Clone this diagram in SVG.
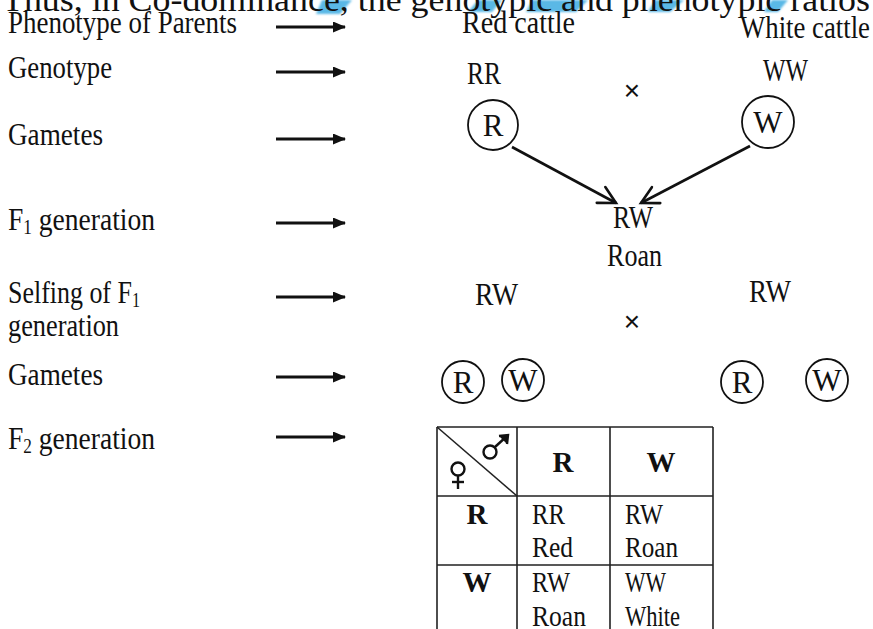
<svg xmlns="http://www.w3.org/2000/svg" width="873" height="629" viewBox="0 0 873 629">
  <defs>
    <marker id="solid-head" viewBox="0 0 13 11" refX="12" refY="5.5" markerWidth="13" markerHeight="11" markerUnits="userSpaceOnUse" orient="auto">
      <path d="M0,0 L13,5.5 L0,11 Z" fill="#111"/>
    </marker>
    <marker id="open-head" viewBox="0 0 22 22" refX="19" refY="11" markerWidth="22" markerHeight="22" markerUnits="userSpaceOnUse" orient="auto">
      <path d="M2,2 L19,11 L2,20" fill="none" stroke="#111" stroke-width="2.6" stroke-linecap="round" stroke-linejoin="miter"/>
    </marker>
    <filter id="soft" x="-20%" y="-20%" width="140%" height="140%">
      <feGaussianBlur stdDeviation="1.2"/>
    </filter>
  </defs>
  <style>
    text { font-family: "Liberation Serif", "Times New Roman", serif; fill: #111; }
    .lbl { font-size: 32px; }
    .big { font-size: 32px; }
    .gl { font-size: 31px; text-anchor: middle; }
    .cell { font-size: 29px; }
    .bold { font-size: 29px; font-weight: bold; text-anchor: middle; }
    .cross { font-family: "Liberation Sans", Arial, sans-serif; font-size: 28px; text-anchor: middle; }
    .step { stroke: #111; stroke-width: 2.8; fill: none; marker-end: url(#solid-head); }
    .link { stroke: #111; stroke-width: 2.6; fill: none; marker-end: url(#open-head); }
    .gam { fill: none; stroke: #111; stroke-width: 1.8; }
    .grid { stroke: #222; stroke-width: 1.6; fill: none; }
  </style>

  <rect width="873" height="629" fill="#ffffff"/>

  <!-- heading line running off the top edge, with highlighter strokes behind it -->
  <g id="heading">
    <g fill="#5ab8e6" filter="url(#soft)">
      <polygon points="322,0 352,0 340,14 316,14"/>
      <polygon points="478,0 502,0 492,12 468,12"/>
      <polygon points="532,0 588,0 576,12 526,12"/>
      <polygon points="655,0 684,0 670,12 648,12"/>
      <polygon points="772,0 788,0 778,12 764,12"/>
    </g>
    <text x="2" y="11" font-size="33" textLength="868" lengthAdjust="spacingAndGlyphs">Thus, in Co-dominance, the genotypic and phenotypic ratios</text>
  </g>

  <!-- step labels -->
  <g id="labels">
    <text class="lbl" x="8" y="33" textLength="229" lengthAdjust="spacingAndGlyphs">Phenotype of Parents</text>
    <text class="lbl" x="8" y="78" textLength="104" lengthAdjust="spacingAndGlyphs">Genotype</text>
    <text class="lbl" x="8" y="145" textLength="95" lengthAdjust="spacingAndGlyphs">Gametes</text>
    <text class="lbl" x="8" y="230" textLength="147" lengthAdjust="spacingAndGlyphs">F<tspan font-size="20" dy="4">1</tspan><tspan dy="-4"> generation</tspan></text>
    <text class="lbl" x="8" y="303" textLength="132" lengthAdjust="spacingAndGlyphs">Selfing of F<tspan font-size="20" dy="4">1</tspan></text>
    <text class="lbl" x="8" y="336" textLength="111" lengthAdjust="spacingAndGlyphs">generation</text>
    <text class="lbl" x="8" y="385" textLength="95" lengthAdjust="spacingAndGlyphs">Gametes</text>
    <text class="lbl" x="8" y="449" textLength="147" lengthAdjust="spacingAndGlyphs">F<tspan font-size="20" dy="4">2</tspan><tspan dy="-4"> generation</tspan></text>
  </g>

  <!-- step arrows -->
  <g id="step-arrows">
    <line class="step" x1="276" y1="27" x2="345" y2="27"/>
    <line class="step" x1="276" y1="72" x2="345" y2="72"/>
    <line class="step" x1="276" y1="139" x2="345" y2="139"/>
    <line class="step" x1="276" y1="223" x2="345" y2="223"/>
    <line class="step" x1="276" y1="297" x2="345" y2="297"/>
    <line class="step" x1="276" y1="377" x2="345" y2="377"/>
    <line class="step" x1="276" y1="437" x2="345" y2="437"/>
  </g>

  <!-- parents -->
  <g id="parent-red">
    <text class="big" x="462" y="33" textLength="113" lengthAdjust="spacingAndGlyphs">Red cattle</text>
    <text class="big" x="467" y="84" textLength="34" lengthAdjust="spacingAndGlyphs">RR</text>
  </g>
  <g id="parent-white">
    <text class="big" x="740" y="38" textLength="130" lengthAdjust="spacingAndGlyphs">White cattle</text>
    <text class="big" x="763" y="81" textLength="45" lengthAdjust="spacingAndGlyphs">WW</text>
  </g>
  <text class="cross" x="632" y="100">×</text>

  <!-- parental gametes -->
  <g id="gamete-R1">
    <circle class="gam" cx="493" cy="125" r="25"/>
    <text class="gl" x="493" y="136">R</text>
  </g>
  <g id="gamete-W1">
    <circle class="gam" cx="768" cy="122" r="26"/>
    <text class="gl" x="768" y="133">W</text>
  </g>

  <!-- F1 offspring -->
  <g id="f1">
    <text class="big" x="613" y="228" textLength="40" lengthAdjust="spacingAndGlyphs">RW</text>
    <text class="big" x="607" y="266" textLength="55" lengthAdjust="spacingAndGlyphs">Roan</text>
  </g>

  <!-- fertilisation connectors -->
  <g id="connectors">
    <line class="link" x1="512" y1="147" x2="616" y2="203"/>
    <line class="link" x1="750" y1="146" x2="641" y2="203"/>
  </g>

  <!-- selfing of F1 -->
  <g id="selfing-left">
    <text class="big" x="475" y="305" textLength="43" lengthAdjust="spacingAndGlyphs">RW</text>
  </g>
  <g id="selfing-right">
    <text class="big" x="749" y="302" textLength="42" lengthAdjust="spacingAndGlyphs">RW</text>
  </g>
  <text class="cross" x="632" y="331">×</text>

  <!-- F1 gametes -->
  <g id="gamete-R2">
    <circle class="gam" cx="463" cy="382" r="21"/>
    <text class="gl" x="463" y="393">R</text>
  </g>
  <g id="gamete-W2">
    <circle class="gam" cx="523" cy="380" r="21"/>
    <text class="gl" x="523" y="391">W</text>
  </g>
  <g id="gamete-R3">
    <circle class="gam" cx="742" cy="382" r="21"/>
    <text class="gl" x="742" y="393">R</text>
  </g>
  <g id="gamete-W3">
    <circle class="gam" cx="827" cy="380" r="21"/>
    <text class="gl" x="827" y="391">W</text>
  </g>

  <!-- F2 Punnett square -->
  <g id="punnett">
    <path class="grid" d="M437,427 H713 M437,496 H713 M437,565 H713 M437,427 V629 M517,427 V629 M610,427 V629 M713,427 V629"/>
    <line class="grid" x1="437" y1="427" x2="517" y2="496"/>
    <!-- male symbol -->
    <g stroke="#111" stroke-width="2.4" fill="none">
      <circle cx="490" cy="452" r="6.5"/>
      <line x1="495" y1="447" x2="507" y2="436"/>
      <path d="M499,436 L508,435 L507,444" fill="#111"/>
    </g>
    <!-- female symbol -->
    <g stroke="#111" stroke-width="2.4" fill="none">
      <circle cx="458" cy="469" r="6.5"/>
      <line x1="458" y1="475.5" x2="458" y2="489"/>
      <line x1="452" y1="482" x2="464" y2="482"/>
    </g>
    <text class="bold" x="563" y="472">R</text>
    <text class="bold" x="661" y="472">W</text>
    <text class="bold" x="477" y="524">R</text>
    <text class="bold" x="477" y="592">W</text>
    <text class="cell" x="532" y="524" textLength="33" lengthAdjust="spacingAndGlyphs">RR</text>
    <text class="cell" x="532" y="557" textLength="41" lengthAdjust="spacingAndGlyphs">Red</text>
    <text class="cell" x="625" y="524" textLength="38" lengthAdjust="spacingAndGlyphs">RW</text>
    <text class="cell" x="625" y="557" textLength="53" lengthAdjust="spacingAndGlyphs">Roan</text>
    <text class="cell" x="532" y="592" textLength="38" lengthAdjust="spacingAndGlyphs">RW</text>
    <text class="cell" x="532" y="626" textLength="54" lengthAdjust="spacingAndGlyphs">Roan</text>
    <text class="cell" x="625" y="592" textLength="41" lengthAdjust="spacingAndGlyphs">WW</text>
    <text class="cell" x="625" y="626" textLength="55" lengthAdjust="spacingAndGlyphs">White</text>
  </g>
</svg>
